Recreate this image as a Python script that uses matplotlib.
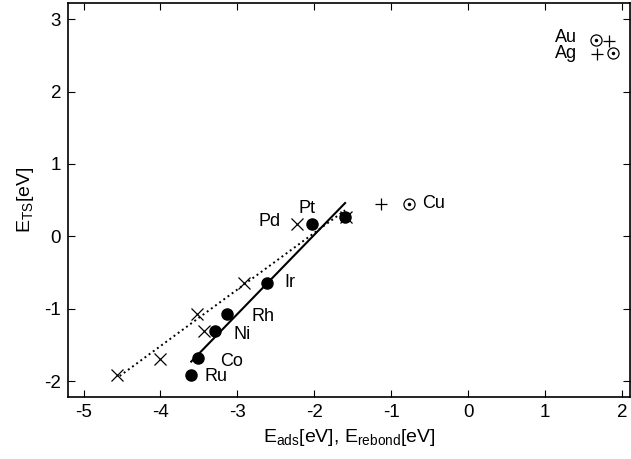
import matplotlib
matplotlib.use("Agg")
import matplotlib.pyplot as plt

plt.rcParams["font.family"] = ["Liberation Sans", "DejaVu Sans"]
plt.rcParams["mathtext.default"] = "regular"
plt.rcParams["axes.unicode_minus"] = False

# E_ads (filled circles) and E_rebond (crosses) vs E_TS
ads_x = [-3.60, -3.51, -3.29, -3.14, -2.62, -2.03, -1.60]
ads_y = [-1.91, -1.68, -1.31, -1.07, -0.64, 0.175, 0.27]
reb_x = [-4.56, -4.00, -3.53, -3.44, -2.91, -2.22, -1.59]
reb_y = [-1.92, -1.69, -1.07, -1.31, -0.64, 0.175, 0.27]

# noble metals: plus = E_rebond, odot = E_ads
plus_x = [-1.13, 1.83, 1.68]
plus_y = [0.44, 2.70, 2.52]
odot_x = [-0.77, 1.66, 1.88]
odot_y = [0.44, 2.71, 2.53]

# fit lines (end points)
fit_ads_x = [-3.60, -1.60]
fit_ads_y = [-1.73, 0.46]
fit_reb_x = [-4.53, -1.60]
fit_reb_y = [-1.93, 0.36]

# metal labels
labels = [
    ("Ru", -3.43, -1.94, "left"),
    ("Co", -3.23, -1.73, "left"),
    ("Ni", -3.05, -1.35, "left"),
    ("Rh", -2.82, -1.11, "left"),
    ("Ir", -2.39, -0.64, "left"),
    ("Pd", -2.44, 0.20, "right"),
    ("Pt", -2.09, 0.39, "center"),
    ("Cu", -0.60, 0.45, "left"),
    ("Au", 1.42, 2.74, "right"),
    ("Ag", 1.42, 2.52, "right"),
]

fig = plt.figure(figsize=(6.31, 4.59), dpi=100)
ax = fig.add_axes([0.108, 0.135, 0.89, 0.858])

ax.plot(fit_ads_x, fit_ads_y, "-", color="black", lw=1.5)
ax.plot(fit_reb_x, fit_reb_y, ":", color="black", lw=1.4)
ax.plot(ads_x, ads_y, "o", color="black", ms=8, ls="none")
ax.plot(reb_x, reb_y, "x", color="black", ms=8, mew=0.9, ls="none")
ax.plot(plus_x, plus_y, "+", color="black", ms=9, mew=0.9, ls="none")
ax.plot(odot_x, odot_y, "o", mfc="none", mec="black", ms=8, mew=0.9, ls="none")
ax.plot(odot_x, odot_y, "o", color="black", ms=1.5, ls="none")

for txt, lx, ly, ha in labels:
    ax.text(lx, ly, txt, ha=ha, va="center", fontsize=13)

ax.set_xlim(-5.2, 2.1)
ax.set_ylim(-2.22, 3.22)
ax.set_xticks(range(-5, 3))
ax.set_yticks(range(-2, 4))
ax.tick_params(direction="in", top=True, right=True, length=5, labelsize=13.5, pad=5)
for s in ax.spines.values():
    s.set_linewidth(1.2)

ax.set_xlabel("E$_{ads}$[eV], E$_{rebond}$[eV]", fontsize=14, labelpad=4)
ax.set_ylabel("E$_{TS}$[eV]", fontsize=14, labelpad=6)

fig.savefig("out.png", dpi=100)
